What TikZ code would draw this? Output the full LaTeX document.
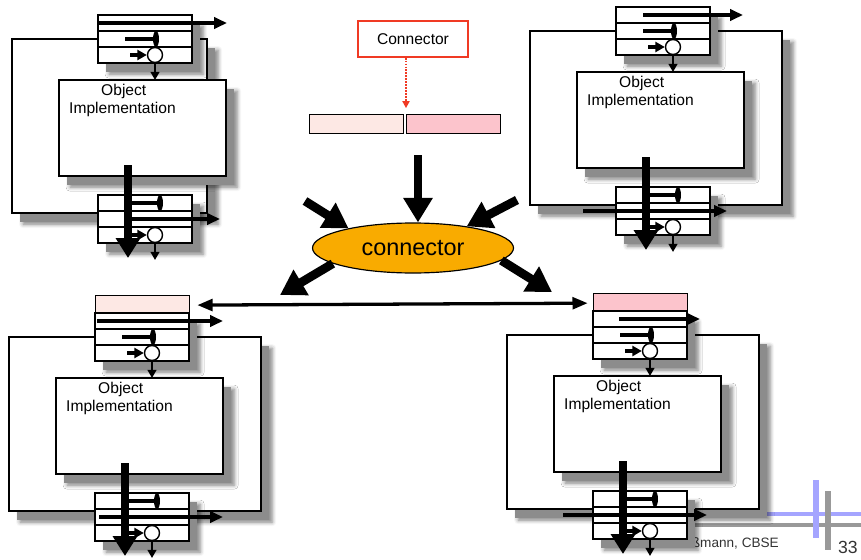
\documentclass[tikz,border=0pt]{standalone}
\usepackage{fontspec}
\setmainfont{Liberation Sans}
\definecolor{pinklight}{RGB}{253,232,228}
\definecolor{pinkdark}{RGB}{252,196,204}
\definecolor{connorange}{RGB}{249,171,0}
\definecolor{connred}{RGB}{240,58,36}
\definecolor{barlilac}{RGB}{165,165,255}
\definecolor{bargray}{RGB}{153,153,153}
\usetikzlibrary{shapes.geometric,arrows.meta,positioning,shadows,shadows.blur}
\newcommand{\pxl}{0.03cm}

\begin{document}
\begin{tikzpicture}[x=0.03cm, y=-0.03cm,
    panel/.style={draw, line width=1.1pt, fill=white, inner sep=0pt, outer sep=0pt,
      blur shadow={shadow xshift=9.5pt, shadow yshift=-9.5pt,
        shadow blur radius=3.5pt, shadow opacity=50},
      drop shadow={shadow xshift=7pt, shadow yshift=-7.5pt, fill=black!45, opacity=1}},
    portbox/.style={panel, anchor=north west, minimum width=94*\pxl, minimum height=48*\pxl},
    cell/.style={draw, line width=1.1pt, inner sep=0pt, anchor=north west,
      minimum width=94*\pxl, minimum height=19*\pxl},
    plug/.style={ellipse, fill=black, inner sep=0pt, minimum width=6*\pxl, minimum height=16*\pxl},
    socket/.style={circle, draw, line width=1.2pt, fill=white, inner sep=0pt, minimum size=15*\pxl},
    wire/.style={line width=2.9pt},
    portarrow/.style={line width=2.9pt, -{Triangle[length=11pt,width=9.5pt]}},
    feedarrow/.style={line width=2.9pt, -{Triangle[length=8pt,width=8.5pt]}},
    droparrow/.style={line width=2pt, -{Triangle[length=7pt,width=7.5pt]}},
    bigarrow/.style={line width=7pt, -{Triangle[length=17pt,width=20pt]}},
    fatarrow/.style={line width=7.5pt, -{Triangle[length=21pt,width=24pt]}},
    linkarrow/.style={line width=2.8pt,
      {Triangle[length=13pt,width=10pt]}-{Triangle[length=13pt,width=10pt]}},
    objtext/.style={anchor=base west, inner sep=0pt, font=\fontsize{13.3}{16}\selectfont}
  ]
  \useasboundingbox (0,0) rectangle (861,560);

  % footer bars, credit and page number
  \draw[bargray, line width=4pt] (650,525) -- (861,525);
  \draw[barlilac, line width=4pt] (760,514) -- (861,514);
  \draw[barlilac, line width=5pt] (816,480) -- (816,538);
  \draw[bargray, line width=5pt] (828,491) -- (828,550);
  \node[anchor=base east, inner sep=0pt, text=black!80, font=\fontsize{11.6}{14}\selectfont]
    (credit) at (779,547) {Prof. U. Aßmann, CBSE};
  \node[anchor=base east, inner sep=0pt, text=black!80, font=\fontsize{15}{18}\selectfont]
    (pageno) at (858,553) {33};

  % connector roles on top of the lower ports
  \node[cell, fill=pinklight] (blcell) at (95,295) {};
  \node[cell, fill=pinkdark] (brcell) at (593,293) {};

  % components
  \foreach \n/\x/\y/\fr/\ta/\tb/\ba/\bb in {
      tl/98/15/109/0/129/30/122,
      tr/616/7/166/27/127/-33/111,
      bl/95/313/166/2/128/4/128,
      br/593/311/166/26/107/-30/114}{
    % outer frame
    \node[panel, anchor=north west, minimum width={(\fr+86)*\pxl}, minimum height=174*\pxl]
      (\n frame) at (\x-86,\y+24) {};
    % implementation
    \node[panel, anchor=north west, minimum width=167*\pxl, minimum height=96*\pxl]
      (\n obj) at (\x-39,\y+65) {};
    \node[objtext] (\n name) at (\x+3,\y+80) {Object};
    \node[objtext] (\n kind) at (\x-29,\y+98) {Implementation};
    % upper port
    \node[portbox] (\n top) at (\x,\y) {};
    \draw[line width=1.1pt] (\x,\y+16) -- ++(94,0) (\x,\y+32) -- ++(94,0);
    \draw[portarrow] (\x+\ta,\y+8) -- (\x+\tb,\y+8);
    \draw[wire] (\x+27,\y+24) -- (\x+57,\y+24);
    \node[plug] (\n tp) at (\x+58,\y+24) {};
    \node[socket] (\n ts) at (\x+57,\y+40) {};
    \draw[feedarrow] (\x+32,\y+40) -- (\n ts);
    \draw[droparrow] (\n ts) -- (\n ts |- \n obj.north);
    % lower port
    \node[portbox] (\n bot) at (\x,\y+180) {};
    \draw[line width=1.1pt] (\x,\y+196) -- ++(94,0) (\x,\y+212) -- ++(94,0);
    \draw[wire] (\x+30,\y+188) -- (\x+60,\y+188);
    \node[plug] (\n bp) at (\x+62,\y+188) {};
    \draw[portarrow] (\x+\ba,\y+204) -- (\x+\bb,\y+204);
    \node[socket] (\n bs) at (\x+57,\y+220) {};
    \draw[feedarrow] (\x+32,\y+220) -- (\n bs);
    \coordinate (\n drop) at (\x+57,\y+245);
    \draw[droparrow] (\n bs) -- (\n drop);
    % main flow out of the implementation
    \coordinate (\n src) at (\x+30,\y+150);
    \coordinate (\n sink) at (\x+30,\y+243);
    \draw[bigarrow] (\n src) -- (\n sink);
  }

  % connector in the middle
  \node[draw=connred, line width=1.3pt, minimum width=110*\pxl, minimum height=36*\pxl,
    font=\fontsize{13.3}{16}\selectfont] (connbox) at (413,39) {Connector};
  \node[cell, fill=pinklight] (leftbar) at (309,114) {};
  \node[cell, fill=pinkdark] (rightbar) at (406,114) {};
  \draw[connred, line width=1.5pt, densely dotted, -{Triangle[length=6pt,width=6pt]},
    shorten >=5pt] (connbox.south -| rightbar.north west) -- (rightbar.north west);

  \node[ellipse, draw, line width=1pt, fill=connorange, inner sep=0pt,
    minimum width=201*\pxl, minimum height=50*\pxl,
    font=\fontsize{20}{24}\selectfont] (conn) at (413,248) {connector};
  \coordinate (feed) at (418,155);
  \coordinate (fromleft) at (305,201);
  \coordinate (fromright) at (517,200);
  \coordinate (toleft) at (280,295);
  \coordinate (toright) at (552,292);
  \draw[fatarrow] (feed) -- (feed |- conn.north);
  \draw[fatarrow] (fromleft) -- (conn.163);
  \draw[fatarrow] (fromright) -- (conn.22);
  \draw[fatarrow] (conn.191) -- (toleft);
  \draw[fatarrow] (conn.352) -- (toright);

  % link between the two connector roles
  \draw[linkarrow, shorten <=6pt, shorten >=4.5pt] (blcell.east) -- (brcell.west);
\end{tikzpicture}
\end{document}
